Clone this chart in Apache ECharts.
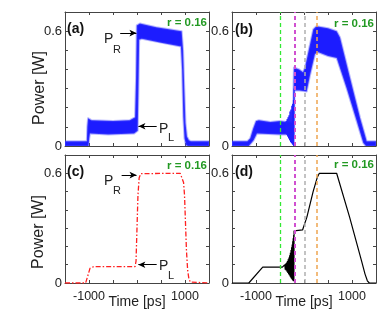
<!DOCTYPE html>
<html>
<head>
<meta charset="utf-8">
<script src="https://cdn.jsdelivr.net/npm/echarts@6/dist/echarts.min.js"></script>
<style>
  html, body { margin: 0; padding: 0; background: #fff; }
  #chart { width: 382px; height: 322px; }
</style>
</head>
<body>
<div id="chart"></div>
<script>
// --- axes ---
const timeMin = -1500, timeMax = 1500, timeStep = 500;
const powerMin = 0, powerMax = 0.7, powerStep = 0.1;
const timeLabels = [-1000, 1000];
const powerLabels = [0, 0.6];

// (a) measured: upper / lower edge of the noisy trace [ps, W]
const measUpperA = [[-1500,0.025],[-1045,0.025],[-1035,0.1],[-1020,0.145],[-950,0.135],[-500,0.13],[-150,0.135],[-40,0.15],[-20,0.35],[-5,0.63],[60,0.64],[400,0.62],[930,0.6],[960,0.5],[985,0.3],[1010,0.12],[1040,0.05],[1080,0.03],[1120,0.025],[1500,0.025]];
const measLowerA = [[-1500,0],[-1010,0],[-995,0.04],[-980,0.065],[-600,0.06],[-60,0.065],[15,0.08],[30,0.3],[45,0.555],[100,0.56],[500,0.54],[915,0.52],[940,0.4],[965,0.15],[990,0.04],[1020,0.005],[1060,0],[1500,0]];

// (b) measured
const measUpperB = [[-1500,0.025],[-1180,0.025],[-1120,0.04],[-1060,0.09],[-1000,0.13],[-940,0.135],[-700,0.125],[-500,0.13],[-350,0.125],[-225,0.12],[-218,0.3],[-210,0.41],[-100,0.4],[-20,0.385],[21,0.41],[125,0.53],[194,0.61],[260,0.625],[500,0.615],[680,0.6],[750,0.567],[958,0.357],[1167,0.147],[1306,0.025],[1500,0.025]];
const measLowerB = [[-1500,0],[-1150,0],[-1050,0.03],[-980,0.065],[-500,0.06],[-350,0.06],[-205,0.06],[-198,0.29],[-100,0.29],[56,0.285],[125,0.37],[229,0.48],[300,0.49],[500,0.47],[681,0.46],[890,0.3],[1098,0.13],[1236,0.016],[1290,0],[1500,0]];
const measSpikesB = [[-380,0.095],[-370,0.13],[-360,0.06],[-350,0.14],[-340,0.05],[-330,0.15],[-320,0.04],[-310,0.16],[-300,0.03],[-290,0.18],[-280,0.02],[-270,0.19],[-260,0.015],[-250,0.21],[-242,0.01],[-235,0.22],[-228,0.005],[-220,0.24],[-214,0],[-208,0.3]];

// (c) simulated input
const simC = [[-1500,0],[-1070,0],[-1040,0.01],[-1013,0.05],[-980,0.08],[-950,0.089],[-900,0.09],[-40,0.09],[-20,0.12],[0,0.3],[20,0.48],[45,0.575],[80,0.598],[120,0.6],[900,0.6],[940,0.59],[970,0.55],[990,0.48],[1010,0.33],[1030,0.18],[1055,0.07],[1080,0.025],[1110,0.005],[1140,0],[1500,0]];

// (d) simulated output
const simD = [[-1500,0],[-1150,0],[-860,0.087],[-450,0.087],
  [-440,0.09],[-430,0.082],[-420,0.095],[-410,0.078],[-400,0.1],[-390,0.073],[-381,0.106],[-372,0.068],[-363,0.112],[-354,0.062],
  [-345,0.12],[-337,0.055],[-329,0.13],[-321,0.048],[-313,0.14],[-305,0.042],[-298,0.152],[-291,0.036],[-284,0.165],[-277,0.03],
  [-270,0.18],[-264,0.025],[-258,0.195],[-252,0.02],[-246,0.21],[-240,0.016],[-235,0.228],[-230,0.012],[-225,0.245],[-220,0.01],
  [-215,0.262],[-211,0.012],[-207,0.285],[-190,0.29],[-30,0.29],[0,0.3],[60,0.36],[190,0.5],[280,0.58],[320,0.6],[680,0.6],
  [700,0.59],[950,0.36],[1200,0.12],[1270,0.05],[1320,0.012],[1360,0],[1500,0]];

// dashed markers in (b) and (d) [ps]
const markerTimes = [-500, -190, 20, 265];

// --- styles ---
const FONT = '"Liberation Sans", Arial, sans-serif';
const AXIS_COLOR = '#444';
const TEXT_COLOR = '#222';
const markerStyles = [
  { color: '#33e833', width: 1.3 },
  { color: '#d050d0', width: 2 },
  { color: '#b0b0b0', width: 1.5 },
  { color: '#eea550', width: 1.5 }
];

const grids = [
  { left: 65, top: 12, width: 144, height: 134 },
  { left: 232, top: 12, width: 144, height: 134 },
  { left: 65, top: 155, width: 144, height: 128 },
  { left: 232, top: 155, width: 144, height: 128 }
];

const xAxes = [];
const yAxes = [];
grids.forEach((g, i) => {
  const bottomRow = i >= 2;
  const tick = { inside: true, length: 3, lineStyle: { color: AXIS_COLOR } };
  const line = { show: true, onZero: false, lineStyle: { color: AXIS_COLOR, width: 1 } };
  xAxes.push({
    gridIndex: i, type: 'value', position: 'bottom',
    min: timeMin, max: timeMax, interval: timeStep,
    axisLine: line, axisTick: tick, splitLine: { show: false },
    axisLabel: {
      show: bottomRow, margin: 7, fontSize: 12.5, fontFamily: FONT, color: TEXT_COLOR,
      formatter: (v) => (timeLabels.includes(Math.round(v)) ? String(Math.round(v)) : '')
    },
    name: bottomRow ? 'Time [ps]' : '',
    nameLocation: 'middle', nameGap: 12, nameMoveOverlap: false,
    nameTextStyle: { fontSize: 14, fontFamily: FONT, color: TEXT_COLOR }
  });
  xAxes.push({
    gridIndex: i, type: 'value', position: 'top',
    min: timeMin, max: timeMax, interval: timeStep,
    axisLine: line, axisTick: tick, axisLabel: { show: false }, splitLine: { show: false }
  });
  yAxes.push({
    gridIndex: i, type: 'value', position: 'left',
    min: powerMin, max: powerMax, interval: powerStep,
    axisLine: line, axisTick: tick, splitLine: { show: false },
    axisLabel: {
      margin: 3, fontSize: 13, fontFamily: FONT, color: TEXT_COLOR,
      formatter: (v) => {
        const hit = powerLabels.find((p) => Math.abs(p - v) < 1e-6)
        return hit === undefined ? '' : String(hit)
      }
    }
  });
  yAxes.push({
    gridIndex: i, type: 'value', position: 'right',
    min: powerMin, max: powerMax, interval: powerStep,
    axisLine: line, axisTick: tick, axisLabel: { show: false }, splitLine: { show: false }
  });
});

// noisy measured trace drawn as a filled band between its edges
const bandSeries = (k, upper, lower) => ({
  type: 'custom',
  xAxisIndex: 2 * k, yAxisIndex: 2 * k,
  data: [[0, 0]],
  clip: true, silent: true,
  renderItem: (params, api) => {
    const pts = upper.concat(lower.slice().reverse()).map((p) => api.coord(p));
    return {
      type: 'polygon',
      shape: { points: pts },
      style: { fill: '#1c1cff', stroke: 'rgba(80,80,255,0.4)', lineWidth: 2, lineJoin: 'round' }
    };
  }
});

const arrowLines = (rAt, lAt) => ({
  silent: true, animation: false,
  symbol: ['none', 'arrow'], symbolSize: [5, 7],
  label: { show: false },
  lineStyle: { color: '#000', width: 1, type: 'solid' },
  emphasis: { disabled: true },
  data: [
    [{ coord: rAt[0] }, { coord: rAt[1] }],
    [{ coord: lAt[0] }, { coord: lAt[1] }]
  ]
});

const markerLines = {
  silent: true, animation: false, symbol: 'none',
  label: { show: false },
  emphasis: { disabled: true },
  data: markerTimes.map((t, j) => ({
    xAxis: t,
    lineStyle: { color: markerStyles[j].color, width: markerStyles[j].width, type: [4, 3] }
  }))
};

const series = [
  Object.assign(bandSeries(0, measUpperA, measLowerA), {
    markLine: arrowLines([[-350, 0.59], [-12, 0.59]], [[410, 0.103], [30, 0.103]])
  }),
  bandSeries(1, measUpperB, measLowerB),
  {
    type: 'line', xAxisIndex: 2, yAxisIndex: 2, data: measSpikesB,
    symbol: 'none', silent: true,
    lineStyle: { color: '#2020ff', width: 1 },
    markLine: markerLines
  },
  {
    type: 'line', xAxisIndex: 4, yAxisIndex: 4, data: simC,
    symbol: 'none', silent: true,
    lineStyle: { color: '#ff2020', width: 1.3, type: [5, 2, 1.5, 2] },
    markLine: arrowLines([[-320, 0.59], [-10, 0.59]], [[410, 0.1], [28, 0.1]])
  },
  {
    type: 'line', xAxisIndex: 6, yAxisIndex: 6, data: simD,
    symbol: 'none', silent: true,
    lineStyle: { color: '#000', width: 1.2 },
    markLine: markerLines
  }
];

const txt = (text, x, y, font, extra) => Object.assign({
  type: 'text', x, y, silent: true,
  style: Object.assign({ text, font, fill: TEXT_COLOR, verticalAlign: 'middle', align: 'left' }, extra || {})
});

const panelFont = 'bold 14px ' + FONT;
const rFont = 'bold 11.5px ' + FONT;
const green = { fill: '#229922', align: 'right' };
const pFont = '14px ' + FONT;
const subFont = '11px ' + FONT;

const graphic = [
  txt('(a)', 67, 29, panelFont, { fill: '#111' }),
  txt('(b)', 235, 30, panelFont, { fill: '#111' }),
  txt('(c)', 67, 172, panelFont, { fill: '#111' }),
  txt('(d)', 235, 172, panelFont, { fill: '#111' }),
  txt('r = 0.16', 207, 23, rFont, green),
  txt('r = 0.16', 374, 24, rFont, green),
  txt('r = 0.16', 207, 166, rFont, green),
  txt('r = 0.16', 374, 165, rFont, green),
  txt('P', 104, 39, pFont), txt('R', 113, 50, subFont),
  txt('P', 159, 129, pFont), txt('L', 168, 138, subFont),
  txt('P', 104, 181, pFont), txt('R', 113, 191, subFont),
  txt('P', 159, 266, pFont), txt('L', 168, 276, subFont),
  Object.assign(txt('Power [W]', 40, 88, '16px ' + FONT, { align: 'center' }), { rotation: Math.PI / 2 }),
  Object.assign(txt('Power [W]', 39, 232, '16px ' + FONT, { align: 'center' }), { rotation: Math.PI / 2 })
];

const chart = echarts.init(document.getElementById('chart'));
chart.setOption({
  animation: false,
  backgroundColor: '#fff',
  grid: grids.map((g) => Object.assign({ outerBoundsMode: 'none', containLabel: false }, g)),
  xAxis: xAxes,
  yAxis: yAxes,
  series,
  graphic
});
</script>
</body>
</html>
